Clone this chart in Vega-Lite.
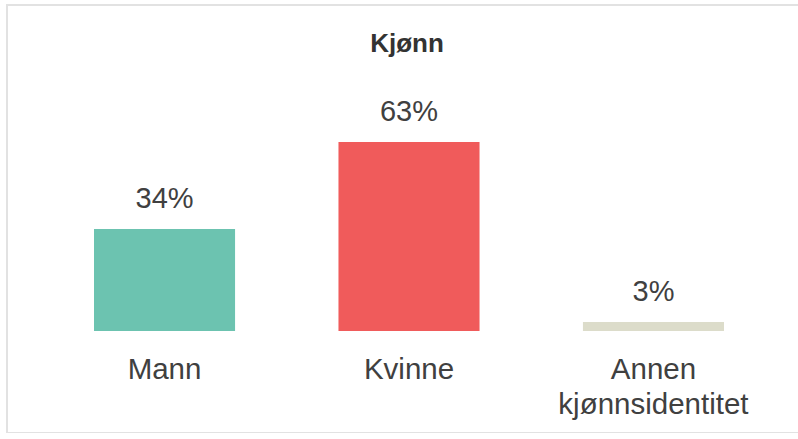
{
  "$schema": "https://vega.github.io/schema/vega-lite/v6.json",
  "width": 800,
  "height": 428,
  "autosize": {"type": "none"},
  "padding": {"left": 7, "top": 5, "right": 0, "bottom": 0},
  "background": "white",
  "title": {"text": "Kjønn", "font": "Liberation Sans", "fontSize": 26, "fontWeight": "bold", "color": "#333333", "offset": -52, "frame": "group", "anchor": "middle"},
  "config": {"view": {"stroke": "#e2e2e2", "strokeWidth": 2}},
  "data": {"values": [
    {"kjonn": "Mann", "andel": 0.34},
    {"kjonn": "Kvinne", "andel": 0.63},
    {"kjonn": "Annen kjønnsidentitet", "andel": 0.03}
  ]},
  "encoding": {
    "x": {"field": "kjonn", "type": "nominal", "sort": null,
      "scale": {"range": [87, 717], "paddingInner": 0.423, "paddingOuter": 0},
      "axis": {"title": null, "domain": false, "ticks": false, "tickSize": 0, "grid": false, "labelAngle": 0,
        "labelFont": "Liberation Sans", "labelFontSize": 29.5, "labelColor": "#404040",
        "labelPadding": 47, "labelBaseline": "alphabetic", "labelLineHeight": 35, "labelLimit": 400,
        "labelExpr": "split(datum.label, ' ')", "offset": -102}},
    "y": {"field": "andel", "type": "quantitative", "scale": {"domain": [-0.34, 1.08667], "nice": false, "zero": false}, "axis": null}
  },
  "layer": [
    {"mark": {"type": "bar"},
     "encoding": {
       "y2": {"datum": 0},
       "color": {"field": "kjonn", "type": "nominal", "legend": null,
         "scale": {"domain": ["Mann", "Kvinne", "Annen kjønnsidentitet"], "range": ["#6cc3b0", "#f05b5b", "#dcdcca"]}}
     }},
    {"mark": {"type": "text", "baseline": "alphabetic", "dy": -21, "font": "Liberation Sans", "fontSize": 29, "color": "#404040"},
     "encoding": {"text": {"field": "andel", "type": "quantitative", "format": ".0%"}}}
  ]
}
